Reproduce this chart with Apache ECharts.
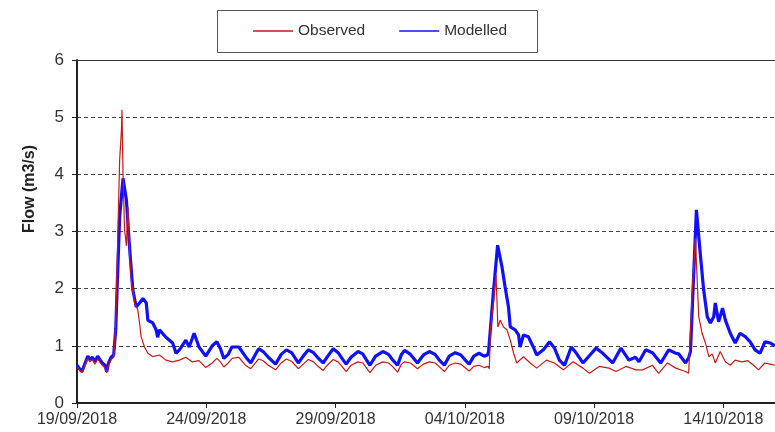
<!DOCTYPE html>
<html>
<head>
<meta charset="utf-8">
<script src="https://cdn.jsdelivr.net/npm/echarts@6/dist/echarts.min.js"></script>
<style>
html,body{margin:0;padding:0;background:#fff;}
#chart{width:775px;height:432px;}
</style>
</head>
<body>
<div id="chart"></div>
<script>
// x values are days after 19/09/2018 00:00
const tickLabels = ['19/09/2018','24/09/2018','29/09/2018','04/10/2018','09/10/2018','14/10/2018'];
const seriesNames = ['Observed','Modelled'];

const observed = [
[0,0.62],[0.1,0.58],[0.19,0.53],[0.3,0.65],[0.42,0.78],[0.5,0.72],[0.6,0.76],[0.69,0.68],[0.8,0.77],[0.88,0.72],
[0.98,0.66],[1.08,0.62],[1.15,0.53],[1.22,0.66],[1.32,0.76],[1.42,0.8],[1.5,1.4],[1.59,3.15],[1.65,4.25],[1.72,4.78],
[1.74,5.13],[1.78,4.02],[1.84,3.03],[1.91,2.75],[1.97,3.43],[2.04,2.56],[2.1,2.15],[2.23,1.75],[2.35,1.63],[2.42,1.4],
[2.48,1.16],[2.61,0.98],[2.74,0.87],[2.93,0.81],[3.19,0.84],[3.44,0.75],[3.7,0.72],[3.96,0.75],[4.21,0.8],[4.45,0.72],
[4.72,0.74],[4.98,0.62],[5.23,0.7],[5.41,0.78],[5.55,0.72],[5.68,0.63],[5.85,0.7],[6.0,0.78],[6.26,0.8],[6.52,0.66],
[6.72,0.6],[6.9,0.7],[7.03,0.77],[7.2,0.74],[7.4,0.66],[7.68,0.58],[7.9,0.7],[8.1,0.77],[8.3,0.73],[8.56,0.6],
[8.75,0.68],[8.95,0.76],[9.15,0.72],[9.3,0.65],[9.52,0.57],[9.7,0.67],[9.91,0.76],[10.1,0.72],[10.25,0.64],[10.41,0.55],
[10.6,0.66],[10.87,0.72],[11.05,0.7],[11.33,0.53],[11.55,0.66],[11.83,0.72],[12.05,0.7],[12.2,0.64],[12.4,0.54],[12.55,0.68],
[12.67,0.72],[12.9,0.7],[13.17,0.6],[13.4,0.68],[13.63,0.72],[13.85,0.7],[14.0,0.64],[14.21,0.55],[14.4,0.66],[14.63,0.7],
[14.85,0.68],[15.0,0.62],[15.17,0.56],[15.35,0.64],[15.55,0.66],[15.75,0.62],[15.9,0.64],[15.95,0.6],[15.99,1.28],[16.12,1.8],
[16.21,2.24],[16.24,1.86],[16.28,1.33],[16.37,1.45],[16.5,1.33],[16.63,1.28],[16.76,1.1],[16.89,0.87],[17.01,0.7],[17.27,0.81],
[17.53,0.7],[17.78,0.61],[18.16,0.75],[18.47,0.7],[18.81,0.58],[19.19,0.72],[19.57,0.61],[19.82,0.52],[20.2,0.64],[20.58,0.61],
[20.85,0.55],[21.24,0.64],[21.62,0.58],[21.88,0.58],[22.26,0.66],[22.5,0.52],[22.84,0.7],[23.16,0.61],[23.54,0.55],[23.61,0.53],
[23.66,0.52],[23.8,1.98],[23.92,2.88],[23.99,2.15],[24.05,1.51],[24.18,1.22],[24.31,1.05],[24.44,0.81],[24.57,0.86],[24.69,0.7],
[24.88,0.9],[25.08,0.72],[25.27,0.66],[25.46,0.75],[25.72,0.72],[25.95,0.74],[26.17,0.66],[26.36,0.58],[26.61,0.7],[26.81,0.68],
[27,0.66]
];

const modelled = [
[0,0.66],[0.1,0.6],[0.19,0.55],[0.3,0.68],[0.42,0.82],[0.5,0.76],[0.6,0.8],[0.69,0.72],[0.8,0.82],[0.88,0.76],
[0.98,0.7],[1.08,0.66],[1.15,0.55],[1.22,0.7],[1.32,0.8],[1.42,0.84],[1.5,1.3],[1.55,1.98],[1.65,3.26],[1.78,3.93],
[1.91,3.55],[1.97,3.15],[2.04,2.68],[2.16,1.98],[2.29,1.68],[2.42,1.75],[2.55,1.83],[2.68,1.75],[2.74,1.45],[2.93,1.4],
[3.06,1.28],[3.12,1.15],[3.19,1.28],[3.44,1.15],[3.7,1.05],[3.83,0.87],[3.96,0.93],[4.21,1.1],[4.34,0.98],[4.53,1.22],
[4.72,0.98],[4.98,0.82],[5.23,1.0],[5.41,1.07],[5.55,0.95],[5.68,0.78],[5.85,0.85],[5.99,0.98],[6.26,0.98],[6.52,0.81],
[6.72,0.7],[6.9,0.85],[7.03,0.95],[7.2,0.9],[7.4,0.8],[7.68,0.68],[7.9,0.85],[8.1,0.93],[8.3,0.88],[8.56,0.7],
[8.75,0.82],[8.95,0.93],[9.15,0.88],[9.3,0.8],[9.52,0.7],[9.7,0.82],[9.91,0.95],[10.1,0.88],[10.25,0.78],[10.41,0.68],
[10.6,0.8],[10.87,0.9],[11.05,0.86],[11.33,0.66],[11.55,0.82],[11.83,0.9],[12.05,0.85],[12.2,0.76],[12.4,0.66],[12.55,0.85],
[12.67,0.92],[12.9,0.85],[13.17,0.7],[13.4,0.84],[13.63,0.9],[13.85,0.85],[14.0,0.76],[14.21,0.66],[14.4,0.82],[14.63,0.88],
[14.85,0.84],[15.0,0.76],[15.17,0.68],[15.35,0.82],[15.55,0.87],[15.75,0.82],[15.88,0.84],[15.92,0.9],[16.1,1.9],[16.27,2.76],
[16.44,2.38],[16.56,2.03],[16.69,1.68],[16.76,1.33],[16.95,1.28],[17.08,1.19],[17.14,0.98],[17.27,1.19],[17.46,1.16],[17.65,0.98],
[17.78,0.84],[18.04,0.93],[18.28,1.07],[18.47,0.96],[18.66,0.75],[18.86,0.66],[19.12,0.98],[19.32,0.87],[19.57,0.7],[20.08,0.96],
[20.34,0.87],[20.72,0.7],[21.04,0.96],[21.35,0.75],[21.6,0.8],[21.74,0.72],[22.0,0.93],[22.26,0.88],[22.58,0.7],[22.89,0.93],
[23.16,0.87],[23.27,0.86],[23.54,0.7],[23.66,0.79],[23.73,0.9],[23.85,2.2],[23.96,3.38],[24.12,2.56],[24.24,1.98],[24.38,1.51],
[24.5,1.4],[24.63,1.51],[24.69,1.75],[24.82,1.42],[24.97,1.66],[25.08,1.45],[25.27,1.22],[25.46,1.05],[25.65,1.22],[25.85,1.16],
[26.04,1.07],[26.23,0.93],[26.42,0.87],[26.61,1.07],[26.81,1.05],[27,1.0]
];

const chart = echarts.init(document.getElementById('chart'), null, {renderer:'canvas'});
const FONT = 'Liberation Sans, Arial, sans-serif';
chart.setOption({
  animation:false,
  backgroundColor:'#fff',
  grid:{left:77, top:60, width:703, height:343},
  legend:{
    data:seriesNames,
    left:253, top:23, padding:0,
    itemWidth:40, itemHeight:1.5, itemGap:34,
    icon:'rect',
    textStyle:{fontFamily:FONT, fontSize:15.5, color:'#333'}
  },
  graphic:[
    {type:'rect', shape:{x:217.5, y:10.5, width:320, height:42}, style:{fill:'none', stroke:'#555', lineWidth:1}, z:10},
    {type:'text', x:30, y:189, rotation:Math.PI/2, style:{text:'Flow (m3/s)', font:'bold 16px Liberation Sans, Arial, sans-serif', fill:'#222', align:'center', verticalAlign:'middle'}}
  ],
  xAxis:[{
    type:'value', min:0, max:27, interval:5,
    axisLine:{show:true, onZero:false, lineStyle:{color:'#222', width:2}},
    axisTick:{show:true, length:5, lineStyle:{color:'#222'}},
    splitLine:{show:false},
    axisLabel:{
      showMaxLabel:false, margin:9,
      fontFamily:FONT, fontSize:16, color:'#333',
      formatter:function(v){ const i=Math.round(v/5); return (Math.abs(v-i*5)<1e-6 && tickLabels[i]) ? tickLabels[i] : ''; }
    }
  },{
    type:'value', position:'top', min:0, max:27,
    axisLine:{show:true, onZero:false, lineStyle:{color:'#333', width:1}},
    axisTick:{show:false}, axisLabel:{show:false}, splitLine:{show:false}
  }],
  yAxis:{
    type:'value', min:0, max:6, interval:1,
    axisLine:{show:true, lineStyle:{color:'#222', width:2}},
    axisTick:{show:true, length:5, lineStyle:{color:'#222'}},
    splitLine:{show:true, lineStyle:{color:'#444', type:[4,3], width:1}},
    axisLabel:{margin:13, fontFamily:FONT, fontSize:17, color:'#333'}
  },
  series:[
    {name:seriesNames[1], type:'line', data:modelled, showSymbol:false, symbol:'none', lineStyle:{color:'#1010ff', width:3.2}, itemStyle:{color:'#1010ff'}, z:2},
    {name:seriesNames[0], type:'line', data:observed, showSymbol:false, symbol:'none', lineStyle:{color:'#c81818', width:1.2}, itemStyle:{color:'#c81818'}, z:3}
  ]
});
</script>
</body>
</html>
